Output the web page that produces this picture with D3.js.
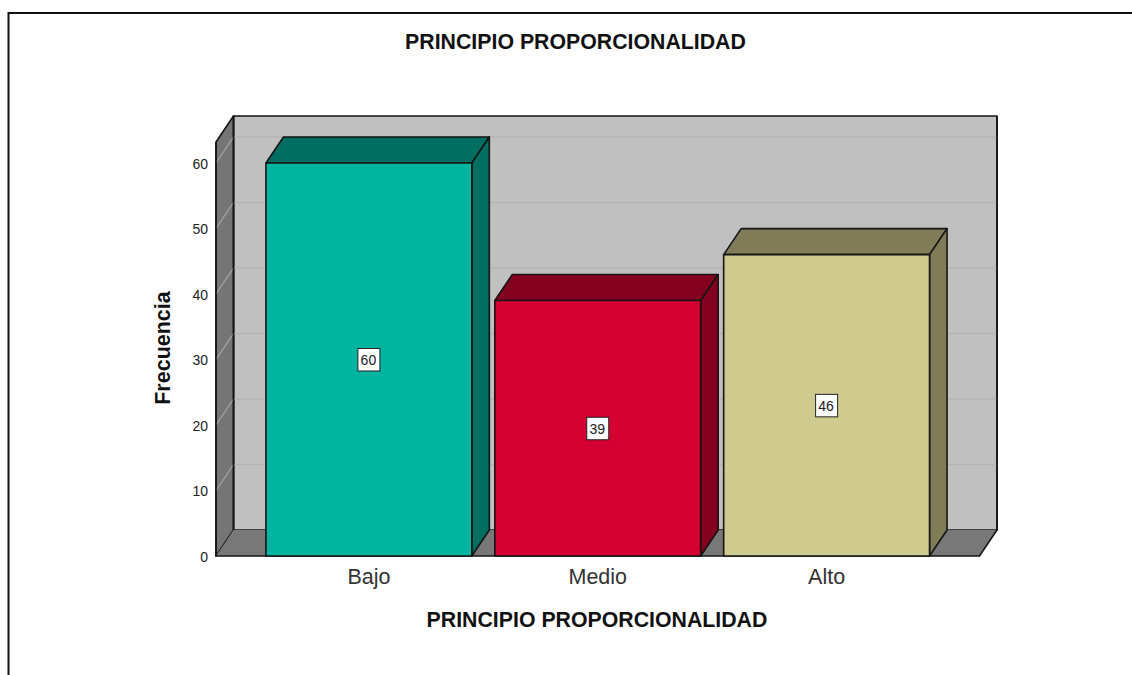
<!DOCTYPE html>
<html><head><meta charset="utf-8">
<script src="https://cdn.jsdelivr.net/npm/d3@7"></script>
<style>html,body{margin:0;padding:0;background:#fff;overflow:hidden}svg{display:block}text{font-family:"Liberation Sans",Arial,sans-serif}</style>
</head><body><svg id="c" width="1132" height="675"></svg>
<script>
const title = "PRINCIPIO PROPORCIONALIDAD";
const yLabel = "Frecuencia";
const categories = ["Bajo","Medio","Alto"];
const values = [60,39,46];
const yTicks = [0,10,20,30,40,50,60];
const frontColors = ["#00B5A0","#D50032","#CFCA8E"];
const topColors = ["#006F62","#84001F","#7F7C57"];
const wallColor = "#757575", floorColor="#787878", backColor="#C0C0C0", ink="#151515";

const svg = d3.select("#c");
const W=1132,H=675;
const y = d3.scaleLinear().domain([0,63.2]).range([556,142]);
const x = d3.scaleBand().domain(categories).range([216,979.5]).paddingInner(0.1004).paddingOuter(0.2183);
const dx=17.5, dy=-26;
const L=x.range()[0], R=x.range()[1], B=y(0), T=y.range()[1];
const poly=(pts,fill,sw=1.6)=>svg.append("polygon").attr("points",pts.map(p=>p.join(",")).join(" "))
  .attr("fill",fill).attr("stroke",ink).attr("stroke-width",sw).attr("stroke-linejoin","round");

// page frame
svg.append("path").attr("d",`M8.5,${H}V13H${W}`).attr("fill","none").attr("stroke","#111").attr("stroke-width",2);

// back wall, side wall, floor
poly([[L+dx,T+dy],[R+dx,T+dy],[R+dx,B+dy],[L+dx,B+dy]],backColor);
poly([[L,T],[L+dx,T+dy],[L+dx,B+dy],[L,B]],wallColor);
svg.append("g").selectAll("path").data(yTicks.filter(d=>d>0)).join("path")
  .attr("d",d=>`M${L+dx},${y(d)+dy}H${R+dx}`).attr("stroke","#B4B4B4").attr("stroke-width",1.5).attr("fill","none");
svg.append("g").selectAll("path").data(yTicks.filter(d=>d>0)).join("path")
  .attr("d",d=>`M${L},${y(d)}L${L+dx},${y(d)+dy}`).attr("stroke","#A8A8A8").attr("stroke-width",1.2).attr("fill","none");
svg.append("polygon").attr("points",[[L,B],[L+dx,B+dy],[R+dx,B+dy],[R,B]].map(p=>p.join(",")).join(" ")).attr("fill",floorColor);
svg.append("path").attr("d",`M${L+dx},${T+dy}V${B+dy}M${R+dx},${T+dy}V${B+dy}L${R},${B}H${L}V${T}`).attr("fill","none").attr("stroke",ink).attr("stroke-width",1.6);

// bars
categories.forEach((c,i)=>{
  const x0=x(c), x1=x0+x.bandwidth(), t=y(values[i]);
  poly([[x0,t],[x0+dx,t+dy],[x1+dx,t+dy],[x1,t]],topColors[i]);
  poly([[x1,t],[x1+dx,t+dy],[x1+dx,B+dy],[x1,B]],topColors[i]);
  poly([[x0,t],[x1,t],[x1,B],[x0,B]],frontColors[i]);
  const cx=(x0+x1)/2, cy=(t+B)/2;
  svg.append("rect").attr("x",cx-11).attr("y",cy-11).attr("width",22).attr("height",22.5).attr("fill","#fff").attr("stroke","#222").attr("stroke-width",1);
  svg.append("text").attr("x",cx-.5).attr("y",cy+5.5).attr("text-anchor","middle").attr("font-size",14).attr("fill","#222").text(values[i]);
});

// axes
const gy=svg.append("g").attr("transform",`translate(${L},1)`).call(d3.axisLeft(y).tickValues(yTicks).tickSize(0).tickPadding(8));
gy.select(".domain").remove();
gy.selectAll("text").attr("font-size",14).attr("fill","#222").style("font-family",'"Liberation Sans",Arial,sans-serif');
const gx=svg.append("g").attr("transform",`translate(0,${B})`).call(d3.axisBottom(x).tickSize(0).tickPadding(13));
gx.select(".domain").remove();
gx.selectAll("text").attr("font-size",21.5).attr("fill","#333").style("font-family",'"Liberation Sans",Arial,sans-serif');

// titles
svg.append("text").attr("x",575.5).attr("y",49).attr("text-anchor","middle").attr("font-size",21.3).attr("font-weight","bold").attr("fill","#111").text(title);
svg.append("text").attr("x",597).attr("y",627).attr("text-anchor","middle").attr("font-size",21.3).attr("font-weight","bold").attr("fill","#111").text(title);
svg.append("text").attr("transform","translate(170,348) rotate(-90)").attr("text-anchor","middle").attr("font-size",21.5).attr("font-weight","bold").attr("fill","#111").text(yLabel);
</script></body></html>
